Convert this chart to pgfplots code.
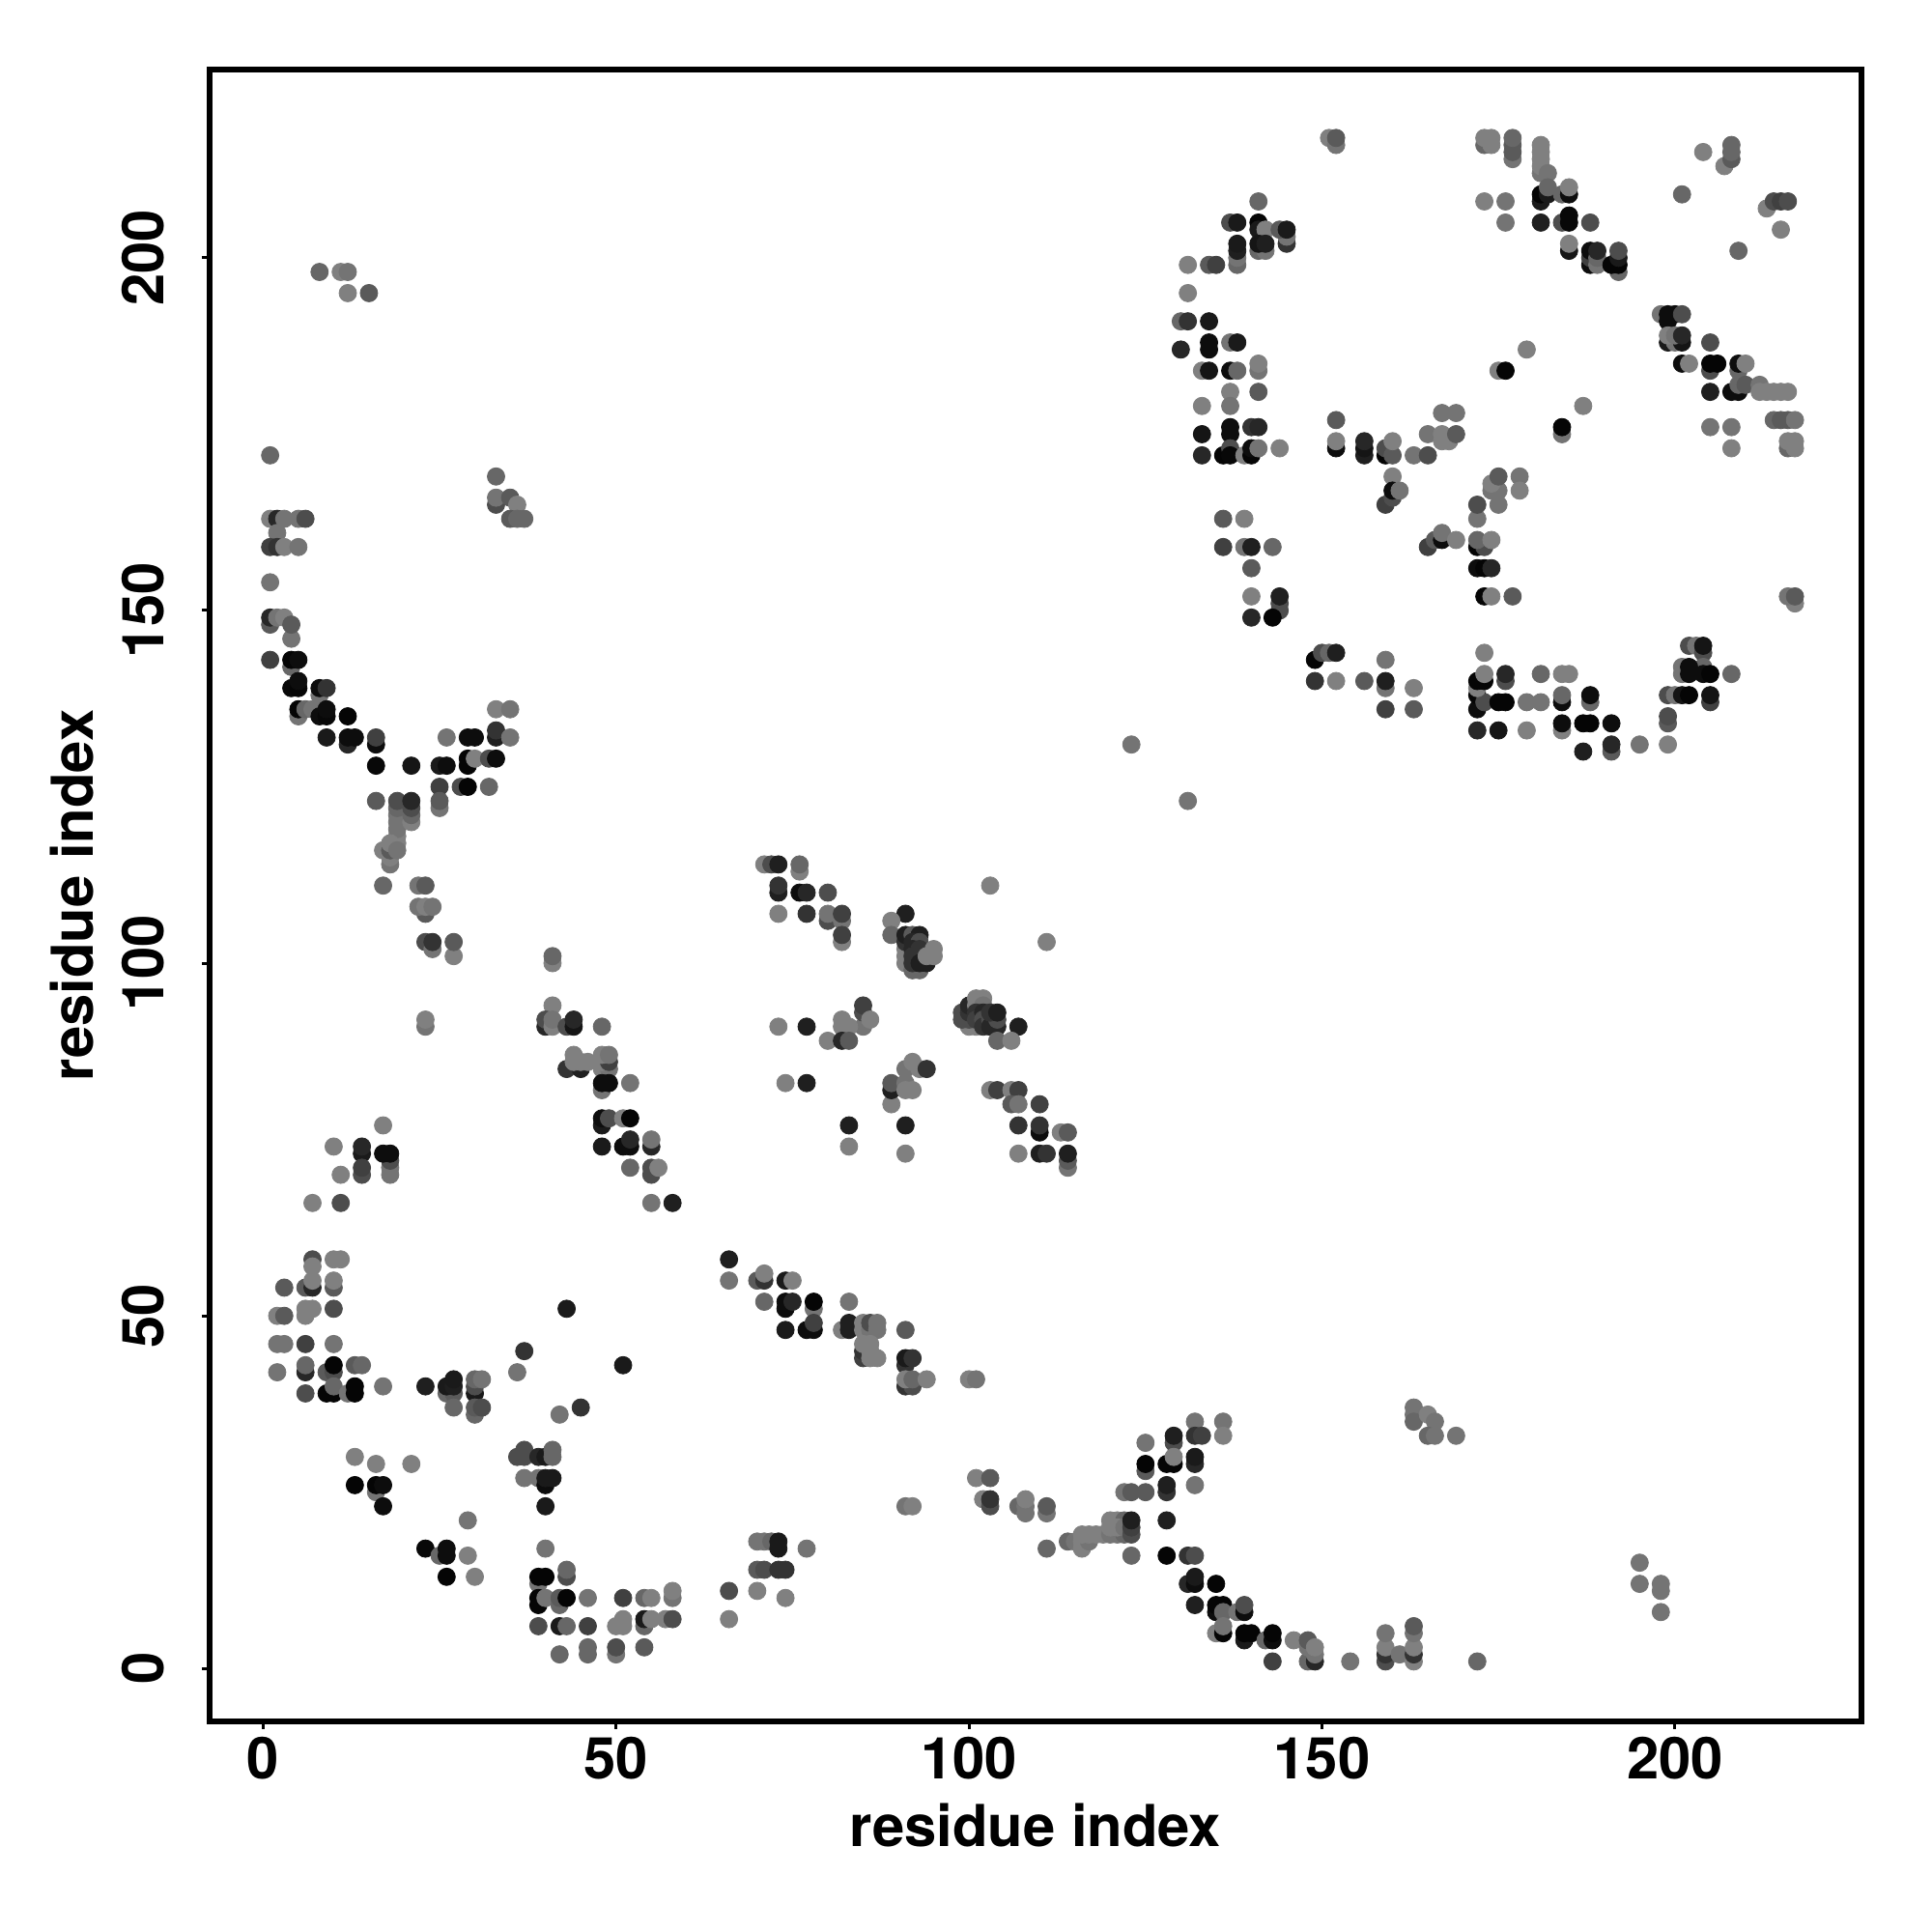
\documentclass[border=0pt]{standalone}
\usepackage{fontspec}
\setmainfont{TeX Gyre Heros}
\usepackage{pgfplots}
\pgfplotsset{compat=1.18}
\pgfplotsset{
  /pgfplots/colormap={greys}{gray(0cm)=(0); gray(1cm)=(1)},
}
\begin{document}
\begin{tikzpicture}
\path[use as bounding box] (0,0) rectangle (1000pt,1000pt);
\begin{axis}[
  at={(108.4pt,109pt)}, anchor=south west,
  scale only axis, width=855pt, height=855pt,
  xmin=-7.6, xmax=226.4, ymin=-7.5, ymax=226.7,
  xtick={0,50,100,150,200}, ytick={0,50,100,150,200},
  tick align=outside, tick pos=left,
  major tick length=4pt,
  axis line style={line width=2.8pt},
  every tick/.style={black,line width=1.5pt},
  /pgf/number format/assume math mode=true,
  tick label style={font=\fontsize{29.9}{30}\selectfont\bfseries},
  label style={font=\fontsize{29.9}{30}\selectfont\bfseries},
  yticklabel style={rotate=90,anchor=south,yshift=16pt},
  xticklabel style={anchor=north,yshift=-0.5pt},
  xlabel={residue index}, ylabel={residue index},
  xlabel style={at={(axis description cs:0.5,0)},anchor=base,yshift=-65pt},
  ylabel style={at={(axis description cs:0,0.5)},anchor=base,yshift=60pt},
  colormap name=greys,
  point meta min=0, point meta max=1,
]
\addplot[scatter, only marks, mark=*, mark size=4.5pt, point meta=explicit,
  scatter/use mapped color={draw=mapped color,fill=mapped color}]
coordinates {
% lower left
(17,77)[.5] (10,74)[.5] (14,73)[.1] (14,74)[.15] (18,70)[.45] (18,71)[.45] (18,72)[.3] (17,73)[.05] (18,73)[.05]
(14,70)[.3] (14,71)[.25] (11,70)[.5] (7,66)[.5] (11,66)[.3]
(7,58)[.3] (10,58)[.5] (11,58)[.5] (7,57)[.5] (6,54)[.35] (7,54)[.15] (7,55)[.5] (3,54)[.35] (10,54)[.35] (10,55)[.5]
(6,50)[.5] (6,51)[.5] (7,51)[.5] (10,51)[.3] (2,50)[.5] (3,50)[.35]
(2,46)[.45] (3,46)[.45] (6,46)[.25] (10,46)[.45] (2,42)[.45]
(6,42)[.15] (6,43)[.4] (9,42)[.35] (10,42)[.3] (10,43)[.02] (13,43)[.35] (14,43)[.4]
(6,39)[.3] (9,39)[.02] (10,39)[.02] (10,40)[.4] (12,39)[.45] (13,39)[.02] (13,40)[.02] (17,40)[.45]
(23,40)[.12] (26,39)[.4] (27,39)[.35] (26,40)[.1] (27,40)[.12] (27,41)[.1]
(30,39)[.1] (30,40)[.3] (30,41)[.4] (31,41)[.45] (27,37)[.4]
(30,36)[.4] (30,37)[.35] (31,37)[.3] (37,45)[.2] (36,42)[.45] (43,51)[.1] (51,43)[.1] (45,37)[.2] (42,36)[.45]
(37,31)[.3] (36,30)[.3] (37,30)[.3] (39,30)[.15] (40,30)[.1] (41,30)[.4] (41,31)[.4]
(37,27)[.45] (39,27)[.45] (40,26)[.05] (40,27)[.1] (41,27)[.1] (40,23)[.1]
(13,30)[.5] (16,29)[.5] (21,29)[.5] (16,25)[.45] (13,26)[.02] (16,26)[.02] (17,26)[.05] (17,23)[.05]
(29,21)[.45] (23,17)[.03] (25,16)[.4] (26,16)[.05] (26,17)[.05] (29,16)[.5] (26,13)[.02] (30,13)[.5]
(40,17)[.45] (39,12)[.45] (39,13)[.02] (40,13)[.02] (43,13)[.3] (43,14)[.4]
(39,9)[.02] (39,10)[.02] (40,10)[.45] (42,9)[.4] (42,10)[.35] (43,10)[.02] (46,10)[.45]
(39,6)[.3] (42,6)[.1] (43,6)[.4] (46,6)[.25] (42,2)[.4] (46,2)[.4] (46,3)[.4]
(51,10)[.25] (54,10)[.4] (55,10)[.5] (50,6)[.5] (51,6)[.5] (51,7)[.5] (50,2)[.45] (50,3)[.3]
(54,6)[.4] (54,7)[.1] (55,7)[.5] (54,3)[.35] (57,7)[.5] (58,10)[.45] (58,11)[.5] (58,7)[.3]
(66,7)[.5] (66,11)[.3] (70,11)[.5] (70,18)[.45] (71,18)[.45] (72,18)[.4] (73,17)[.1] (73,18)[.1]
(70,14)[.35] (71,14)[.3] (73,14)[.2] (74,14)[.2] (77,17)[.45] (74,10)[.5]
% left, upper
(8,198)[.4] (11,198)[.5] (12,198)[.45] (12,195)[.5] (15,195)[.35]
(1,172)[.4] (1,163)[.5] (2,163)[.15] (3,163)[.45] (5,163)[.45] (6,163)[.3] (2,161)[.45]
(1,159)[.25] (2,159)[.2] (3,159)[.5] (5,159)[.45] (1,154)[.45]
(1,148)[.35] (1,149)[.15] (2,149)[.45] (3,149)[.5] (4,146)[.45] (4,148)[.35]
(1,143)[.25] (4,142)[.4] (4,143)[.02] (5,143)[.05]
(4,139)[.03] (5,139)[.02] (5,140)[.05] (8,138)[.45] (8,139)[.05] (9,139)[.2]
(5,135)[.45] (5,136)[.02] (6,136)[.4] (7,136)[.45] (8,135)[.05] (9,135)[.03] (9,136)[.05] (12,135)[.02]
(9,132)[.1] (12,131)[.15] (12,132)[.05] (13,132)[.05] (16,131)[.05] (16,132)[.25]
(16,128)[.03] (21,128)[.08] (25,128)[.1] (26,128)[.05] (26,132)[.45] (29,132)[.05] (30,132)[.05]
(33,132)[.12] (33,133)[.2] (35,132)[.45] (33,136)[.5] (35,136)[.45]
(29,128)[.02] (29,129)[.02] (30,129)[.5] (32,129)[.3] (33,129)[.05]
(25,125)[.25] (28,125)[.3] (29,125)[.02] (32,125)[.4] (25,122)[.45] (25,123)[.35] (16,123)[.35]
(19,117)[.5] (19,118)[.5] (19,119)[.45] (19,120)[.45] (19,121)[.45] (19,122)[.4] (19,123)[.3]
(21,120)[.5] (21,121)[.4] (21,122)[.3] (21,123)[.15]
(18,114)[.45] (18,115)[.5] (17,116)[.5] (18,116)[.35] (18,117)[.5] (19,116)[.45]
(17,111)[.4] (22,111)[.45] (23,111)[.35] (23,107)[.35] (22,108)[.45] (23,108)[.5] (24,108)[.45]
(23,103)[.3] (24,102)[.45] (24,103)[.2] (27,101)[.5] (27,103)[.35] (23,91)[.45] (23,92)[.5]
(33,169)[.4] (33,165)[.3] (33,166)[.45] (35,166)[.35] (36,165)[.5] (35,163)[.35] (36,163)[.4] (37,163)[.4]
% second diagonal band
(41,100)[.5] (41,101)[.4] (41,94)[.5] (40,91)[.15] (40,92)[.3] (41,91)[.5] (41,92)[.45]
(43,91)[.3] (44,91)[.08] (44,92)[.15] (48,91)[.4]
(43,85)[.2] (45,85)[.12] (44,86)[.5] (44,87)[.5] (45,86)[.5] (46,86)[.5]
(48,85)[.5] (49,85)[.45] (48,86)[.5] (49,86)[.25] (48,87)[.5] (49,87)[.45]
(48,82)[.45] (48,83)[.05] (49,83)[.05] (52,83)[.45]
(48,77)[.1] (48,78)[.05] (49,78)[.3] (51,78)[.5] (52,78)[.02]
(48,74)[.1] (51,74)[.05] (52,74)[.05] (52,75)[.15] (55,74)[.15] (55,75)[.45]
(52,71)[.4] (55,70)[.3] (55,71)[.3] (56,71)[.5] (55,66)[.45] (58,66)[.12]
% centre block
(71,114)[.5] (72,114)[.3] (73,114)[.12] (76,113)[.5] (76,114)[.4]
(73,110)[.12] (73,111)[.2] (76,110)[.05] (77,110)[.15] (80,110)[.3]
(73,107)[.5] (77,107)[.2] (80,106)[.3] (80,107)[.45] (82,106)[.45] (82,107)[.25] (82,103)[.5] (82,104)[.25]
(91,107)[.12] (89,106)[.5] (89,104)[.4]
(91,100)[.5] (91,101)[.5] (91,102)[.5] (92,99)[.4] (93,99)[.4] (91,103)[.2] (91,104)[.12] (92,104)[.35] (93,104)[.12]
(92,103)[.15] (93,103)[.3] (92,102)[.15] (93,102)[.2] (92,101)[.2] (92,100)[.2] (93,100)[.12] (94,100)[.12]
(94,101)[.5] (95,101)[.5] (95,102)[.5]
(103,111)[.5] (111,103)[.5] (73,91)[.5] (77,91)[.12]
(85,91)[.45] (85,93)[.3] (85,94)[.25] (86,92)[.5] (82,91)[.5] (83,91)[.5] (82,92)[.5]
(80,89)[.5] (82,89)[.15] (83,89)[.35]
(100,91)[.5] (101,91)[.5] (99,92)[.3] (99,93)[.3] (100,92)[.3] (100,93)[.2] (100,94)[.15]
(101,94)[.5] (101,95)[.5] (102,95)[.5] (102,94)[.45] (101,93)[.2] (101,92)[.25]
(102,93)[.15] (102,92)[.3] (102,91)[.2] (103,92)[.3] (103,91)[.15] (104,91)[.15] (104,92)[.3] (103,93)[.2] (104,93)[.12]
(107,91)[.12] (104,89)[.4] (106,89)[.5]
(91,85)[.45] (92,86)[.5] (93,85)[.5] (94,85)[.2]
(89,80)[.5] (89,82)[.12] (89,83)[.35] (91,83)[.45] (91,82)[.5] (92,82)[.5]
(74,83)[.5] (77,83)[.12] (83,77)[.12] (83,74)[.5] (91,77)[.12] (91,73)[.5]
(103,82)[.5] (104,82)[.25] (106,82)[.5] (107,82)[.25] (106,80)[.35] (107,80)[.45] (110,80)[.25]
(107,77)[.2] (110,76)[.05] (110,77)[.2] (113,76)[.5] (114,76)[.35]
(107,73)[.5] (110,73)[.12] (111,73)[.2] (114,71)[.45] (114,72)[.35] (114,73)[.12]
% chain 40-60
(66,58)[.12] (66,55)[.45] (70,55)[.35] (71,55)[.2] (71,56)[.5] (74,55)[.1] (75,55)[.5]
(71,52)[.4] (74,51)[.05] (74,52)[.05] (75,52)[.15] (78,51)[.45] (78,52)[.02] (83,52)[.45]
(74,48)[.1] (77,48)[.05] (78,48)[.05] (78,49)[.25] (82,48)[.5] (83,48)[.12] (83,49)[.12]
(85,48)[.5] (85,49)[.5] (86,48)[.45] (86,49)[.3] (87,48)[.45] (87,49)[.45] (91,48)[.35]
(85,44)[.25] (85,45)[.2] (85,46)[.5] (86,46)[.5] (86,45)[.5] (86,44)[.5] (87,44)[.5]
(91,43)[.2] (91,44)[.1] (92,44)[.2] (91,40)[.2] (92,40)[.3] (91,41)[.5] (92,41)[.4] (94,41)[.5] (100,41)[.5] (101,41)[.45]
% lower right
(163,37)[.45] (163,36)[.45] (163,35)[.4] (165,36)[.5] (166,35)[.45] (165,33)[.4] (166,33)[.45] (169,33)[.45]
(132,35)[.45] (136,35)[.45] (136,33)[.5] (129,32)[.3] (129,33)[.12] (132,33)[.2] (133,33)[.25] (125,32)[.45]
(128,29)[.02] (129,29)[.02] (129,30)[.5] (132,29)[.15] (132,30)[.1] (125,28)[.35] (125,29)[.02] (132,26)[.45]
(128,25)[.2] (128,26)[.12] (122,25)[.45] (123,25)[.35] (125,25)[.35]
(101,27)[.5] (103,27)[.35] (91,23)[.45] (92,23)[.5] (102,24)[.5] (103,23)[.3] (103,24)[.2]
(107,23)[.4] (108,22)[.45] (108,23)[.45] (108,24)[.5] (111,22)[.45] (111,23)[.35] (111,17)[.4]
(114,18)[.4] (115,18)[.45] (116,17)[.5] (116,18)[.5] (117,18)[.45]
(116,19)[.5] (117,19)[.5] (118,19)[.5] (119,19)[.5] (120,19)[.45] (121,19)[.45] (122,19)[.4]
(120,21)[.5] (121,21)[.5] (122,21)[.4] (120,20)[.5] (121,20)[.5] (122,20)[.45]
(123,19)[.3] (123,20)[.25] (123,21)[.12] (128,21)[.12]
(123,16)[.4] (128,16)[.02] (131,16)[.2] (132,16)[.3]
(131,12)[.15] (132,12)[.05] (132,13)[.1] (135,12)[.02] (132,9)[.12]
(135,8)[.05] (135,9)[.02] (136,9)[.02] (136,8)[.4] (138,8)[.45] (139,8)[.05] (139,9)[.3]
(135,5)[.5] (136,5)[.02] (136,6)[.45] (139,4)[.1] (139,5)[.02] (140,5)[.02]
(142,4)[.4] (143,4)[.05] (143,5)[.02] (146,4)[.5] (148,1)[.4] (149,1)[.15] (148,3)[.45] (148,4)[.35] (149,2)[.45] (149,3)[.5]
(143,1)[.25] (154,1)[.45] (159,1)[.3] (159,2)[.2] (159,3)[.5] (159,5)[.45] (161,2)[.45]
(163,1)[.5] (163,2)[.2] (163,3)[.5] (163,5)[.45] (163,6)[.35] (172,1)[.4]
(195,15)[.45] (195,12)[.45] (198,12)[.45] (198,11)[.45] (198,8)[.45]
(123,131)[.45] (131,123)[.45]
% upper right
(151,217)[.5] (152,216)[.45] (152,217)[.35]
(173,216)[.4] (174,216)[.5] (173,217)[.5] (174,217)[.5] (177,214)[.45] (177,215)[.35] (177,216)[.35] (177,217)[.4]
(181,212)[.45] (181,213)[.5] (181,214)[.5] (181,215)[.5] (181,216)[.5] (182,212)[.45]
(181,208)[.1] (181,209)[.02] (182,209)[.1] (182,210)[.4] (184,209)[.4] (185,209)[.05] (185,210)[.5]
(173,208)[.5] (176,208)[.45] (176,205)[.45] (181,205)[.12] (184,205)[.3] (185,205)[.03] (185,206)[.03] (188,205)[.3]
(185,201)[.08] (185,202)[.5] (188,199)[.05] (188,200)[.25] (188,201)[.05] (189,199)[.45] (189,200)[.4] (189,201)[.15]
(192,198)[.4] (191,199)[.02] (192,199)[.02] (192,200)[.1] (192,201)[.3]
(204,215)[.5] (207,213)[.5] (208,214)[.35] (208,215)[.4] (208,216)[.4] (201,209)[.4]
(213,207)[.5] (214,208)[.3] (215,208)[.25] (216,208)[.3] (215,204)[.5] (209,201)[.4]
(141,208)[.4] (137,205)[.3] (138,205)[.1] (141,205)[.02] (141,204)[.1] (142,204)[.5]
(145,202)[.2] (145,203)[.45] (144,204)[.35] (145,204)[.1]
(138,199)[.4] (138,200)[.45] (138,201)[.12] (138,202)[.1] (141,201)[.4] (142,201)[.45] (141,202)[.08] (142,202)[.12]
(131,199)[.5] (134,199)[.35] (135,199)[.25] (131,195)[.5]
(130,191)[.4] (131,191)[.2] (134,191)[.1] (130,187)[.15] (134,187)[.05] (134,188)[.05] (137,188)[.45] (138,188)[.1]
(133,184)[.5] (134,184)[.08] (137,184)[.05] (138,184)[.4] (141,184)[.45] (141,185)[.5]
(137,181)[.5] (141,181)[.35] (133,179)[.5] (137,179)[.45]
(133,175)[.08] (137,175)[.05] (137,176)[.05] (140,176)[.2] (141,176)[.15]
(133,172)[.15] (136,172)[.02] (137,173)[.3] (137,172)[.03] (139,172)[.5] (140,172)[.02] (140,173)[.05] (141,173)[.45] (144,173)[.5]
(152,177)[.35] (152,173)[.05] (152,174)[.5] (156,172)[.12] (156,173)[.08] (156,174)[.15]
(159,172)[.02] (159,173)[.3] (160,172)[.35] (160,174)[.5] (163,172)[.45] (165,172)[.3]
(165,175)[.45] (167,174)[.5] (168,174)[.5] (167,175)[.5] (169,175)[.35] (167,178)[.45] (169,178)[.45]
(160,169)[.5] (159,165)[.25] (160,166)[.3] (160,167)[.05] (161,167)[.45]
(175,165)[.45] (174,167)[.45] (175,167)[.45] (174,168)[.5] (175,169)[.35] (178,169)[.45] (178,167)[.5]
(172,163)[.45] (172,165)[.3] (136,163)[.35] (139,163)[.5]
(136,159)[.25] (139,159)[.45] (140,159)[.12] (143,159)[.4] (140,156)[.35] (140,152)[.5]
(144,150)[.3] (144,151)[.3] (144,152)[.12] (140,149)[.15] (143,149)[.02]
(165,159)[.25] (166,160)[.35] (167,160)[.05] (167,161)[.45] (169,160)[.5]
(172,159)[.02] (173,159)[.3] (172,160)[.4] (174,160)[.5]
(172,156)[.05] (173,156)[.02] (174,156)[.15] (173,152)[.02] (174,152)[.5] (177,152)[.35]
(179,187)[.5] (175,184)[.5] (176,184)[.02] (187,179)[.5] (184,175)[.45] (184,176)[.02]
(198,192)[.45] (199,191)[.05] (199,192)[.05] (200,192)[.05] (201,192)[.3]
(199,188)[.1] (200,188)[.45] (201,188)[.08] (199,189)[.5] (200,189)[.45] (201,189)[.15] (205,188)[.3]
(201,185)[.05] (202,185)[.5] (205,184)[.3] (205,185)[.02] (206,185)[.02] (209,184)[.4] (209,185)[.05] (210,185)[.5]
(205,181)[.12] (208,181)[.05] (209,181)[.05] (209,182)[.4] (210,182)[.35] (212,182)[.45]
(212,181)[.5] (213,181)[.5] (214,181)[.5] (215,181)[.5] (216,181)[.5]
(214,177)[.4] (215,177)[.35] (216,177)[.35] (217,177)[.45] (205,176)[.45] (208,176)[.45] (208,173)[.5]
(216,173)[.4] (216,174)[.5] (217,173)[.5] (217,174)[.5]
(217,151)[.5] (216,152)[.45] (217,152)[.35]
% lower arc of the upper right block
(202,145)[.3] (203,145)[.45] (204,144)[.3] (204,145)[.08]
(201,141)[.45] (201,142)[.45] (204,142)[.4] (202,141)[.05] (202,142)[.05] (204,141)[.05] (205,141)[.02] (208,141)[.4]
(199,138)[.3] (200,138)[.45] (201,138)[.08] (202,138)[.02] (205,137)[.25] (205,138)[.08]
(199,134)[.35] (199,135)[.3] (199,131)[.5] (195,131)[.45]
(187,134)[.02] (188,134)[.02] (191,134)[.05] (184,133)[.5] (184,134)[.05]
(191,130)[.35] (191,131)[.15] (187,130)[.12] (179,133)[.5] (175,133)[.08] (172,133)[.15]
(184,137)[.05] (184,138)[.4] (188,137)[.4] (188,138)[.05] (179,137)[.45] (181,137)[.45]
(172,136)[.05] (172,138)[.02] (173,137)[.3] (175,137)[.02] (176,137)[.02]
(172,139)[.5] (172,140)[.02] (173,140)[.02] (173,141)[.5] (176,140)[.3] (176,141)[.15]
(181,141)[.4] (184,141)[.5] (185,141)[.5] (173,144)[.5]
(149,143)[.02] (150,144)[.3] (151,144)[.4] (152,144)[.12]
(149,140)[.2] (152,140)[.5] (156,140)[.35] (159,143)[.45] (159,139)[.45] (159,140)[.12] (163,139)[.5]
(159,136)[.25] (163,136)[.35]
};
\end{axis}
\end{tikzpicture}
\end{document}
